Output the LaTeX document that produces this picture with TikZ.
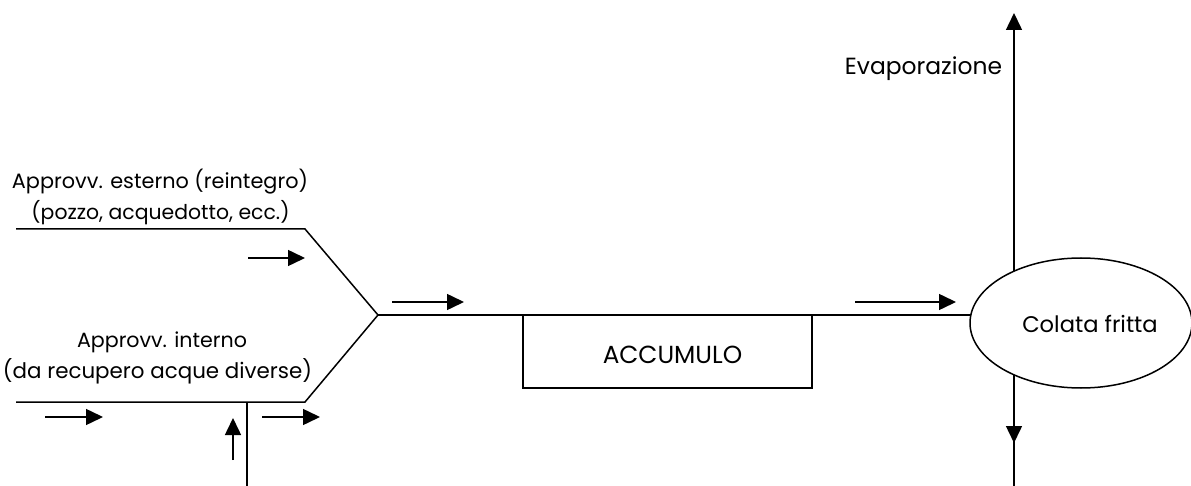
\documentclass[tikz,border=0pt]{standalone}
\usepackage{fontspec}
\setmainfont{Poppins}
\usetikzlibrary{arrows.meta,shapes.geometric}
\begin{document}
\begin{tikzpicture}[x=1pt,y=-1pt,
  line width=1.5pt,
  txt/.style={inner sep=0pt,anchor=base},
  boxnode/.style={draw,rectangle,minimum width=289pt,minimum height=73pt,inner sep=0pt,outer sep=0pt},
  ellnode/.style={draw,ellipse,minimum width=222pt,minimum height=130pt,inner sep=0pt,outer sep=0pt},
  flow/.style={-{Triangle[length=17pt,width=16pt]}}]
\useasboundingbox (0,0) rectangle (1191,486);
% labels
\node[txt,font=\fontsize{20.8}{24}\selectfont] (ext1) at (160,189) {Approvv. esterno (reintegro)};
\node[txt,font=\fontsize{20.4}{24}\selectfont] (ext2) at (160.5,220) {(pozzo, acquedotto, ecc.)};
\node[txt,font=\fontsize{20.6}{24}\selectfont] (int1) at (162,347) {Approvv. interno};
\node[txt,font=\fontsize{21.4}{24}\selectfont] (int2) at (157.5,378) {(da recupero acque diverse)};
\node[txt,font=\fontsize{23.4}{27}\selectfont] (evap) at (923.5,75) {Evaporazione};
% main nodes
\node[boxnode] (acc) at (667.5,351.5) {};
\node[txt,font=\fontsize{24.7}{28}\selectfont] (acclab) at (672.5,363) {ACCUMULO};
\node[ellnode] (col) at (1081,323) {};
\node[txt,font=\fontsize{22.6}{26}\selectfont] (collab) at (1090,332) {Colata fritta};
% pipe coordinates
\coordinate (a1) at (16,229);
\coordinate (a2) at (305,229);
\coordinate (j) at (378,315);
\coordinate (b1) at (16,402);
\coordinate (b2) at (305,402);
\coordinate (v1) at (247,402);
\coordinate (v2) at (247,486);
\coordinate (m2) at (970.8,315);
\coordinate (ct) at (1014,271);
\coordinate (cb) at (1014,375);
\coordinate (top) at (1014,13);
\coordinate (downtip) at (1014,443);
\coordinate (bottom) at (1014,486);
% pipes
\draw (a1) -- (a2) -- (j) -- (b2) -- (b1);
\draw (v1) -- (v2);
\draw (j) -- (acc.north west);
\draw (acc.north east) -- (m2);
\draw[flow] (ct) -- (top);
\draw (cb) -- (bottom);
\draw[flow] (cb) -- (downtip);
% flow arrows
\coordinate (f1s) at (248,258); \coordinate (f1e) at (305,258);
\coordinate (f2s) at (45,417);  \coordinate (f2e) at (103,417);
\coordinate (f3s) at (262,417); \coordinate (f3e) at (320,417);
\coordinate (f4s) at (233,460); \coordinate (f4e) at (233,418);
\coordinate (f5s) at (392,302); \coordinate (f5e) at (464,302);
\coordinate (f6s) at (855,302); \coordinate (f6e) at (956,302);
\draw[flow] (f1s) -- (f1e);
\draw[flow] (f2s) -- (f2e);
\draw[flow] (f3s) -- (f3e);
\draw[flow] (f4s) -- (f4e);
\draw[flow] (f5s) -- (f5e);
\draw[flow] (f6s) -- (f6e);
\end{tikzpicture}
\end{document}
